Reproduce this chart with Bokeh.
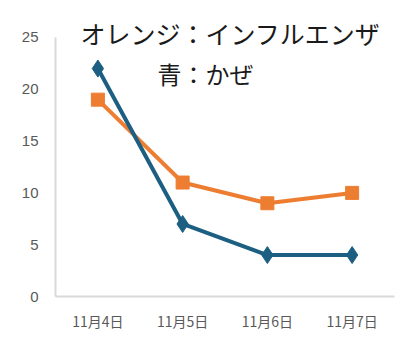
from bokeh.plotting import figure
from bokeh.models import Range1d, Label
from bokeh.embed import file_html
from bokeh.resources import INLINE

dates = ["11月4日", "11月5日", "11月6日", "11月7日"]
influenza = [19, 11, 9, 10]
cold = [22, 7, 4, 4]
y_ticks = [0, 5, 10, 15, 20, 25]

BLUE = "#1c5f82"
ORANGE = "#ed7d31"

p = figure(width=398, height=354, x_range=dates, y_range=Range1d(0, 28.57),
           output_backend="svg", toolbar_location=None,
           min_border_left=55, min_border_right=4, min_border_top=0, min_border_bottom=58)
p.outline_line_color = None
p.xgrid.grid_line_color = None
p.ygrid.grid_line_color = None
p.x_range.range_padding = 0

p.line(dates, influenza, line_color=ORANGE, line_width=4)
p.scatter(dates, influenza, marker="square", size=13, fill_color=ORANGE, line_color=ORANGE)
p.line(dates, cold, line_color=BLUE, line_width=4)
p.scatter(dates, cold, marker="diamond", size=17, fill_color=BLUE, line_color=BLUE)

p.yaxis.ticker = y_ticks
p.yaxis.bounds = (0, 25)
for ax in (p.xaxis, p.yaxis):
    ax.axis_line_color = "#d9d9d9"
    ax.axis_line_width = 2
    ax.major_tick_line_color = None
    ax.minor_tick_line_color = None
    ax.major_label_text_color = "#595959"
    ax.major_label_text_font = "Liberation Sans"
p.yaxis.major_label_text_font_size = "15px"
p.yaxis.major_label_standoff = 11
p.xaxis.major_label_text_font = "Noto Sans CJK JP"
p.xaxis.major_label_text_font_size = "14px"
p.xaxis.major_label_standoff = 8

p.add_layout(Label(x=0.295, y=25.48, text="オレンジ：インフルエンザ", text_font="Noto Sans CJK JP",
                   text_font_size="25px", text_color="#1a1a1a", text_baseline="middle",
                   text_align="left"))
p.add_layout(Label(x=1.77, y=21.5, text="青：かぜ", text_font="Noto Sans CJK JP",
                   text_font_size="24px", text_color="#1a1a1a", text_baseline="middle",
                   text_align="center"))

open("out.html", "w").write(file_html(p, INLINE))
